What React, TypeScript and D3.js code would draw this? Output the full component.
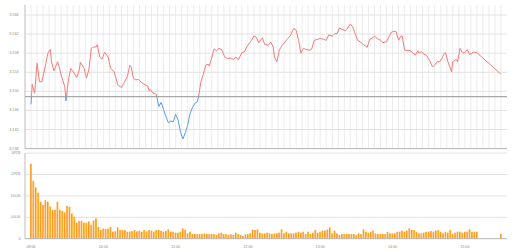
import React from 'react';
import * as d3 from 'd3';

const priceTimes = [
  "09:00","09:01","09:03","09:05","09:07","09:09","09:12","09:14","09:16","09:17",
  "09:19","09:22","09:23","09:25","09:28","09:29","09:31","09:33","09:35","09:38",
  "09:40","09:41","09:44","09:46","09:48","09:50","09:52","09:54","09:55","09:57",
  "09:59","10:01","10:04","10:06","10:09","10:10","10:12","10:15","10:17","10:20",
  "10:22","10:23","10:25","10:27","10:29","10:32","10:34","10:37","10:38","10:39",
  "10:41","10:44","10:46","10:48","10:50","10:51","10:54","10:56","10:58","11:00",
  "11:02","11:04","11:06","11:08","11:10","11:12","11:14","11:16","11:18","11:19",
  "11:21","11:23","11:25","11:27","11:28","11:32","11:34","11:36","11:38","11:41",
  "11:43","11:46","11:48","11:50","11:52","11:55","11:57","12:00","12:03","12:05",
  "12:07","12:09","12:12","12:14","12:17","12:19","12:21","12:22","12:24","12:26",
  "12:28","12:31","12:33","12:35","12:36","12:38","12:40","12:42","12:44","12:46",
  "12:48","12:51","12:53","12:55","12:58","13:00",
  "13:03","13:05","13:07","13:10","13:12","13:14","13:16","13:18","13:21","13:22",
  "13:25","13:27","13:29","13:31","13:33","13:36","13:39","13:41","13:44","13:45",
  "13:47","13:50","13:52","13:55","13:57","13:59","14:01","14:03","14:05","14:07",
  "14:08","14:10","14:13","14:15","14:17","14:19","14:21","14:22","14:24","14:26",
  "14:28","14:31","14:33","14:34","14:37","14:39","14:41","14:43","14:44","14:46",
  "14:49","14:50","14:53","14:54","14:56","14:58","15:00","15:02","15:04","15:07",
  "15:08","15:10","15:30"
];

const prices = [
  3.1473,3.1515,3.1496,3.1559,3.1520,3.1520,3.1555,3.1580,3.1588,3.1562,
  3.1543,3.1562,3.1555,3.1534,3.1510,3.1480,3.1524,3.1548,3.1541,3.1529,
  3.1545,3.1561,3.1548,3.1528,3.1545,3.1590,3.1593,3.1593,3.1598,3.1572,
  3.1567,3.1582,3.1572,3.1548,3.1541,3.1532,3.1513,3.1508,3.1517,3.1531,
  3.1555,3.1552,3.1527,3.1524,3.1525,3.1518,3.1515,3.1511,3.1501,3.1504,
  3.1497,3.1494,3.1468,3.1477,3.1462,3.1454,3.1434,3.1438,3.1436,3.1452,
  3.1440,3.1415,3.1400,3.1413,3.1429,3.1454,3.1466,3.1475,3.1478,3.1489,
  3.1520,3.1536,3.1555,3.1557,3.1553,3.1589,3.1585,3.1590,3.1588,3.1571,
  3.1569,3.1570,3.1567,3.1572,3.1566,3.1581,3.1583,3.1597,3.1607,3.1616,
  3.1613,3.1602,3.1612,3.1598,3.1597,3.1603,3.1593,3.1572,3.1562,3.1586,
  3.1595,3.1604,3.1611,3.1616,3.1621,3.1632,3.1628,3.1607,3.1580,3.1590,
  3.1588,3.1586,3.1589,3.1607,3.1609,3.1611,
  3.1609,3.1607,3.1618,3.1616,3.1621,3.1621,3.1633,3.1630,3.1627,3.1630,
  3.1641,3.1635,3.1621,3.1607,3.1604,3.1598,3.1592,3.1609,3.1613,3.1616,
  3.1611,3.1607,3.1602,3.1604,3.1614,3.1624,3.1626,3.1625,3.1607,3.1616,
  3.1616,3.1586,3.1586,3.1585,3.1580,3.1576,3.1585,3.1580,3.1583,3.1578,
  3.1576,3.1564,3.1552,3.1552,3.1562,3.1562,3.1569,3.1580,3.1581,3.1562,
  3.1541,3.1562,3.1567,3.1562,3.1590,3.1581,3.1581,3.1588,3.1577,3.1582,
  3.1582,3.1581,3.1536
];

const prevClose = 3.1489;
const priceTicks = [3.138, 3.142, 3.146, 3.150, 3.154, 3.158, 3.162, 3.166];

// 2-minute volume bars starting at 09:00
const volumeStart = "09:00";
const volumeStepMinutes = 2;
const volumes = [
  14.0e6,10.8e6,9.6e6,8.6e6,6.9e6,6.3e6,7.2e6,6.9e6,6.0e6,5.4e6,
  5.4e6,6.9e6,5.4e6,5.2e6,4.9e6,6.1e6,6.0e6,4.7e6,4.1e6,3.0e6,
  3.3e6,3.3e6,3.0e6,3.0e6,3.2e6,2.6e6,3.4e6,3.8e6,2.2e6,1.6e6,
  1.9e6,1.8e6,1.9e6,2.2e6,1.3e6,1.4e6,2.1e6,1.6e6,1.6e6,1.6e6,
  1.31e6,1.31e6,1.43e6,1.62e6,1.37e6,1.5e6,1.31e6,1.62e6,1.31e6,1.62e6,
  1.5e6,1.31e6,1.62e6,1.62e6,1.5e6,1.31e6,1.43e6,1.74e6,1.31e6,1.31e6,
  1.12e6,1.12e6,1.31e6,1.93e6,1.62e6,1.0e6,1.31e6,0.87e6,0.87e6,0.87e6,
  0.87e6,0.87e6,1.0e6,0.87e6,0.87e6,0.87e6,0.87e6,0.69e6,1.0e6,1.12e6,
  0.87e6,0.87e6,0.69e6,0.81e6,0.69e6,1.12e6,0.87e6,0.69e6,0.5e6,0.81e6,
  0.87e6,1.0e6,1.74e6,1.62e6,1.74e6,1.12e6,1.0e6,1.0e6,1.12e6,1.0e6,
  0.87e6,1.0e6,1.0e6,1.12e6,1.74e6,1.0e6,1.31e6,1.0e6,1.0e6,1.0e6,
  1.12e6,1.31e6,1.12e6,1.31e6,0.87e6,1.31e6,0.87e6,1.12e6,1.62e6,1.12e6,
  1.31e6,1.5e6,1.5e6,1.74e6,2.12e6,1.0e6,1.5e6,1.0e6,0.69e6,0.87e6,
  0.87e6,0.87e6,0.87e6,0.87e6,0.87e6,0.69e6,1.0e6,0.87e6,1.74e6,1.31e6,
  1.12e6,1.31e6,1.5e6,1.0e6,0.87e6,0.87e6,0.87e6,0.87e6,1.31e6,1.0e6,
  1.0e6,1.0e6,1.31e6,1.31e6,1.5e6,1.31e6,1.5e6,1.93e6,1.62e6,1.62e6,
  1.31e6,1.0e6,1.0e6,1.12e6,1.31e6,1.31e6,1.43e6,1.31e6,1.5e6,1.62e6,
  1.31e6,1.0e6,1.31e6,1.12e6,1.62e6,0.87e6,1.12e6,1.31e6,1.31e6,1.12e6,
  1.31e6,1.31e6,1.74e6,1.31e6,1.31e6,1.31e6
];
const closingTime = "15:30";
const closingVolume = 0.87e6;

const volumeTicks = [0, 4e6, 8e6, 12e6, 16e6];
const volumeTickLabels = ["0", "4,000,000", "8,000,000", "12억원", "16억원"];
const timeTicks = ["09:00", "10:00", "11:00", "12:00", "13:00", "14:00", "15:00"];

const toMin = (s: string) => {
  const [h, m] = s.split(':').map(Number);
  return (h - 9) * 60 + m;
};

export default function App() {
  const W = 512, H = 251;
  const x = d3.scaleLinear().domain([-5, 395]).range([25, 507]);
  const y = d3.scaleLinear().domain([3.138, 3.1681]).range([148.6, 5]);
  const yv = d3.scaleLinear().domain([0, 16e6]).range([238.7, 153.1]);

  const pts: [number, number][] = priceTimes.map((t, i) => [toMin(t), prices[i]]);
  const line = d3.line<[number, number]>().x(d => x(d[0])).y(d => y(d[1]));
  const pathD = line(pts) || '';
  const baseY = y(prevClose);

  const vStart = toMin(volumeStart);
  const bars = volumes.map((v, i) => ({ t: vStart + i * volumeStepMinutes, v }));
  bars.push({ t: toMin(closingTime), v: closingVolume });
  const barW = (x(volumeStepMinutes) - x(0)) * 0.74;

  const vGrid = d3.range(0, 395, 5);
  const font = "'Liberation Sans', Arial, 'Noto Sans CJK KR', sans-serif";
  const left = x.range()[0], right = x.range()[1];
  const fs = 3.7;

  return (
    <svg width={W} height={H} style={{ position: 'fixed', left: 0, top: 0, background: '#fff' }}
      fontFamily={font}>
      <defs>
        <clipPath id="above"><rect x={0} y={0} width={W} height={baseY} /></clipPath>
        <clipPath id="below"><rect x={0} y={baseY} width={W} height={H} /></clipPath>
        <clipPath id="volLabels"><rect x={0} y={150} width={W} height={H - 150} /></clipPath>
        <linearGradient id="barGrad" x1="0" x2="1" y1="0" y2="0">
          <stop offset="0" stopColor="#ff8400" />
          <stop offset="1" stopColor="#ffc24d" />
        </linearGradient>
      </defs>

      {vGrid.map(t => (
        <line key={'vg' + t} x1={x(t)} x2={x(t)} y1={y.range()[1]} y2={y.range()[0]} stroke="#ececec" strokeWidth={1} />
      ))}
      {priceTicks.map(p => (
        <line key={'hg' + p} x1={left} x2={right} y1={y(p)} y2={y(p)} stroke={p === priceTicks[0] ? '#b5b5b5' : '#e2e2e2'} strokeWidth={1} />
      ))}
      {priceTicks.map(p => (
        <text key={'pl' + p} x={18.5} y={y(p)} textAnchor="end" dominantBaseline="middle" fontSize={fs} fill="#888">{p.toFixed(3)}</text>
      ))}
      <line x1={left} x2={left} y1={y.range()[1]} y2={y.range()[0]} stroke="#bdbdbd" strokeWidth={1} />
      <line x1={left} x2={right} y1={baseY} y2={baseY} stroke="#a8a8a8" strokeWidth={1.4} />

      <path d={pathD} fill="none" stroke="#f27b7b" strokeWidth={1} clipPath="url(#above)" />
      <path d={pathD} fill="none" stroke="#5f9be0" strokeWidth={1} clipPath="url(#below)" />

      {volumeTicks.slice(1).map(v => (
        <line key={'vgl' + v} x1={left} x2={right} y1={yv(v)} y2={yv(v)} stroke="#e2e2e2" strokeWidth={1} />
      ))}
      <g clipPath="url(#volLabels)">
        {volumeTicks.map((v, i) => (
          <text key={'vl' + v} x={20.5} y={yv(v)} textAnchor="end" dominantBaseline="middle" fontSize={fs} fill="#888"
            textLength={volumeTickLabels[i].length > 2 ? 9.5 : undefined} lengthAdjust="spacingAndGlyphs">{volumeTickLabels[i]}</text>
        ))}
      </g>
      {bars.map((b, i) => (
        <rect key={'b' + i} x={x(b.t) - barW / 2} y={yv(b.v)} width={barW} height={yv(0) - yv(b.v)} fill="url(#barGrad)" />
      ))}
      <line x1={left} x2={right} y1={yv(0)} y2={yv(0)} stroke="#b5b5b5" strokeWidth={1} />
      <line x1={left} x2={left} y1={yv.range()[1]} y2={yv(0)} stroke="#bdbdbd" strokeWidth={1} />

      {timeTicks.map(t => (
        <text key={'tl' + t} x={x(toMin(t))} y={247.5} textAnchor="middle" dominantBaseline="middle" fontSize={fs} fill="#888">{t}</text>
      ))}
    </svg>
  );
}
